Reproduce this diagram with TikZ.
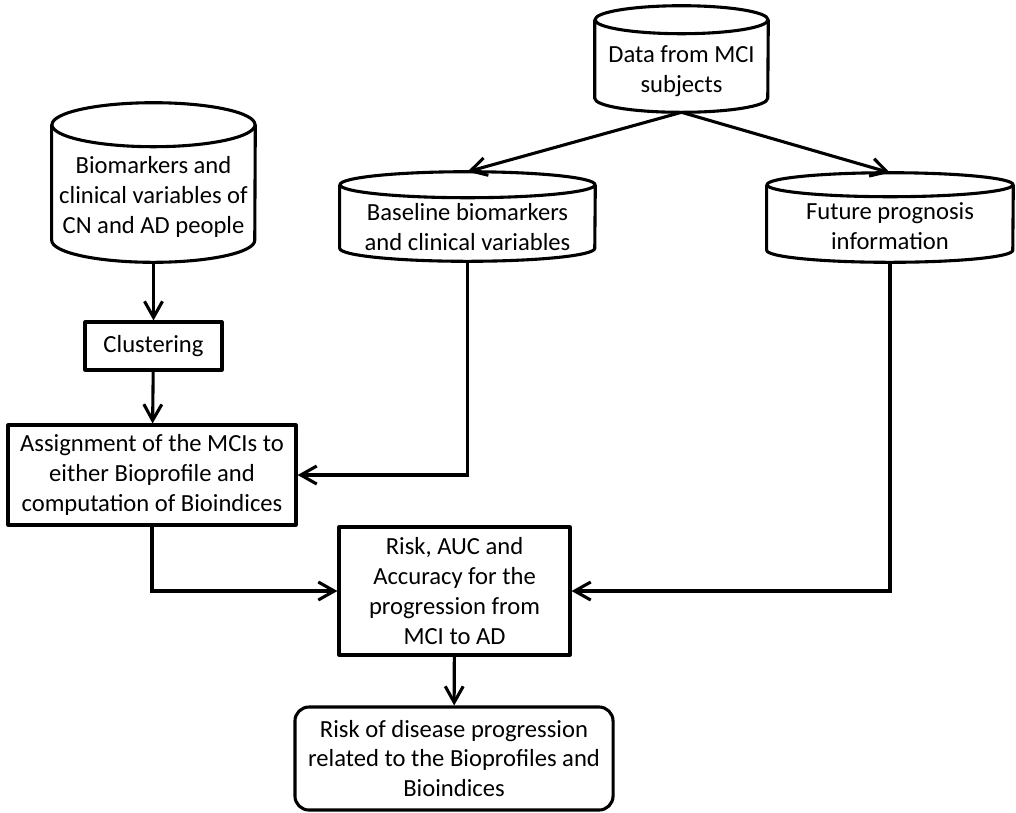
\documentclass[tikz,border=0pt]{standalone}
\usepackage{fontspec}
\setmainfont{Carlito}
\usetikzlibrary{arrows.meta,positioning}
\tikzset{
    outline/.style={line width=2.2pt, line join=round},
    base/.style={
        draw,
        outline,
        align=center,
        inner sep=2pt
    },
    box/.style={base, rectangle},
    roundbox/.style={base, rectangle, rounded corners=0.35cm},
    drum/.style={rectangle, inner sep=0pt},
    drumtext/.style={align=center, inner sep=0pt},
    flow/.style={-{Straight Barb[length=4mm,width=4.5mm]}, line width=2.2pt}
}
% drum outline: node name, x radius, y radius
\newcommand{\drumline}[3]{%
    \draw[outline] ([yshift=-#3]#1.north west) -- ([yshift=#3]#1.south west)
        arc[start angle=180, end angle=360, x radius=#2, y radius=#3]
        -- ([yshift=-#3]#1.north east);
    \draw[outline] ([yshift=-#3]#1.north) ellipse[x radius=#2, y radius=#3];
}

\begin{document}
\begin{tikzpicture}[x=0.025cm, y=-0.025cm, font=\fontsize{17.5}{21.3}\selectfont]
    \useasboundingbox (0,0) rectangle (1016,812);
    \node[drum, minimum width=4.325cm, minimum height=2.65cm,
        label={[drumtext, yshift=-0.3cm]center:Data from MCI\\subjects}] (data) at (681.5,59) {};
    \node[drum, minimum width=6.375cm, minimum height=2.225cm,
        label={[drumtext, yshift=-0.26cm]center:Baseline biomarkers\\and clinical variables}] (baseline) at (467.5,216.5) {};
    \node[drum, minimum width=6.15cm, minimum height=2.225cm,
        label={[drumtext, yshift=-0.21cm]center:Future prognosis\\information}] (future) at (890,217.5) {};
    \node[drum, minimum width=5.075cm, minimum height=3.975cm,
        label={[drumtext, yshift=-0.36cm]center:Biomarkers and\\clinical variables of\\CN and AD people}] (bio) at (153.5,182.5) {};
    \drumline{data}{2.1625cm}{0.35cm}
    \drumline{baseline}{3.1875cm}{0.325cm}
    \drumline{future}{3.075cm}{0.3cm}
    \drumline{bio}{2.5375cm}{0.55cm}

    \node[box, minimum width=3.425cm, minimum height=1.2cm] (clust) at (153.5,346)
        {Clustering};
    \node[box, minimum width=7.2cm, minimum height=2.5cm] (assign) at (152,475)
        {Assignment of the MCIs to\\either Bioprofile and\\computation of Bioindices};
    \node[box, minimum width=5.775cm, minimum height=3.2cm] (risk) at (454.5,591)
        {Risk, AUC and\\Accuracy for the\\progression from\\MCI to AD};
    \node[roundbox, minimum width=7.95cm, minimum height=2.575cm] (final) at (454,758.5)
        {Risk of disease progression\\related to the Bioprofiles and\\Bioindices};

    \draw[flow] (data.south) -- (baseline.north);
    \draw[flow] (data.south) -- (future.north);
    \draw[flow] (bio.south) -- (clust.north);
    \draw[flow] (clust) -- (assign);
    \draw[flow] (baseline.south) |- (assign.east);
    \draw[flow] (assign.south) |- (risk.west);
    \draw[flow] (future.south) |- (risk.east);
    \draw[flow] (risk) -- (final);
\end{tikzpicture}
\end{document}
